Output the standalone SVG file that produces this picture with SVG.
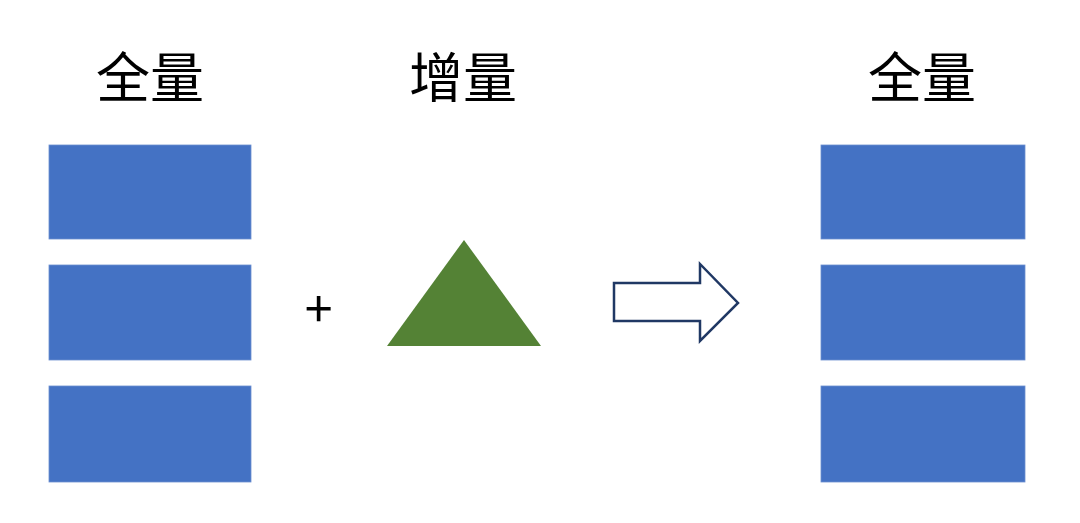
<svg xmlns="http://www.w3.org/2000/svg" width="1080" height="523" viewBox="0 0 1080 523">
<style>
.lbl{font-family:"Noto Sans CJK SC","Noto Sans",sans-serif;font-size:54px;fill:#000;text-anchor:middle}
.blk{fill:#4472C4;stroke:#6C8FD0;stroke-width:0.8}
.op{font-family:"Noto Sans CJK SC","Liberation Sans",sans-serif;font-size:50px;fill:#000;text-anchor:middle}
</style>
<rect width="1080" height="523" fill="#fff"/>
<g id="full-left">
<text class="lbl" x="150" y="98">全量</text>
<rect class="blk" x="49" y="145" width="202" height="94"/>
<rect class="blk" x="49" y="265" width="202" height="95"/>
<rect class="blk" x="49" y="386" width="202" height="96"/>
</g>
<g id="plus">
<text class="op" x="318.5" y="327">+</text>
</g>
<g id="increment">
<text class="lbl" x="463" y="98">增量</text>
<polygon points="464,240 541,346 387,346" fill="#548235"/>
</g>
<g id="connectors">
<path d="M614,283 H700 V264 L738,303 L700,341 V321 H614 Z" fill="#fff" stroke="#203864" stroke-width="2.5" stroke-linejoin="miter"/>
</g>
<g id="full-right">
<text class="lbl" x="922" y="98">全量</text>
<rect class="blk" x="821" y="145" width="204" height="94"/>
<rect class="blk" x="821" y="265" width="204" height="95"/>
<rect class="blk" x="821" y="386" width="204" height="96"/>
</g>
</svg>
